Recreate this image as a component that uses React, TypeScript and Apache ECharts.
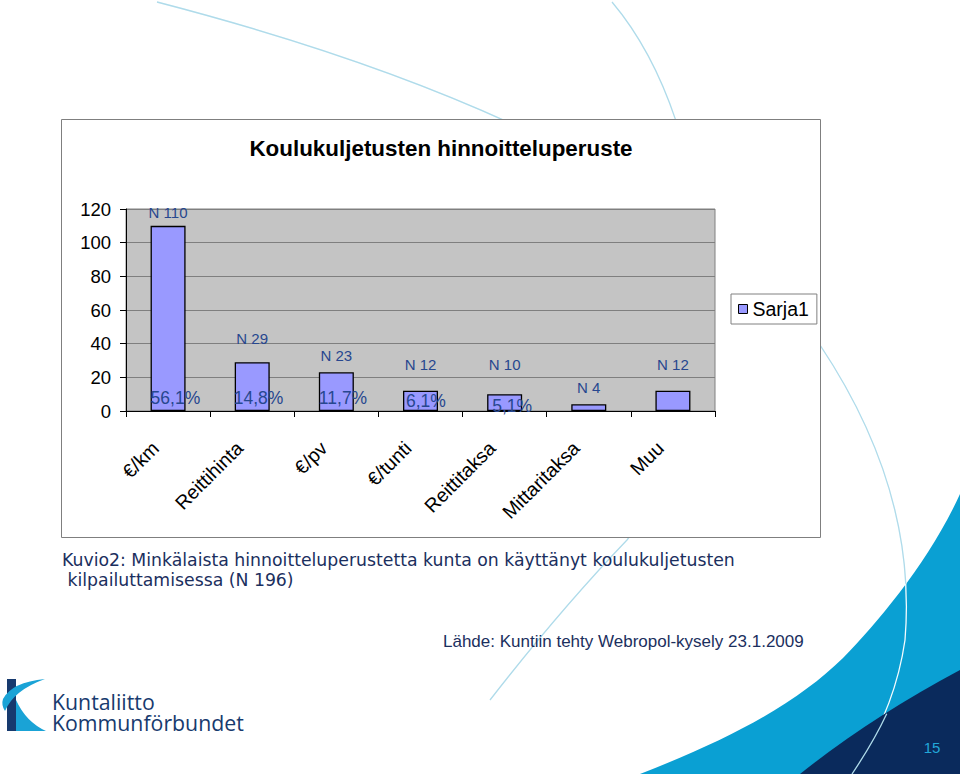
import React, { useEffect, useRef } from "react";
import * as echarts from "echarts";

// ---- data ----
const categories = ["€/km", "Reittihinta", "€/pv", "€/tunti", "Reittitaksa", "Mittaritaksa", "Muu"];
const counts = [110, 29, 23, 12, 10, 4, 12];
const shareLabels = ["56,1%", "14,8%", "11,7%", "6,1%", "5,1%", "", ""];
const yMin = 0;
const yMax = 120;
const yStep = 20;
const seriesName = "Sarja1";
const chartTitle = "Koulukuljetusten hinnoitteluperuste";
const captionLines = [
  "Kuvio2: Minkälaista hinnoitteluperustetta kunta on käyttänyt koulukuljetusten",
  " kilpailuttamisessa (N 196)",
];
const sourceText = "Lähde: Kuntiin tehty Webropol-kysely 23.1.2009";
const logoLines = ["Kuntaliitto", "Kommunförbundet"];
const pageNumber = "15";

// ---- label nudges (styling, px) ----
const nLabelRaise = [1, 11, 4, 14, 17, 4, 14];
const shareLabelShift = [
  [0, -4.5],
  [-1, -4.5],
  [0, -4.5],
  [3, -1],
  [5, 4],
  [0, 0],
  [0, 0],
];

const FONT = '"Liberation Sans", Arial, Helvetica, sans-serif';
const NAVY = "#1b2f5e";
const LABEL_BLUE = "#27478f";
const ARC_BLUE = "#afdbea";

let shapesRegistered = false;
function registerShapes() {
  if (shapesRegistered) return;
  shapesRegistered = true;
  const reg = (name: string, d: string) =>
    echarts.graphic.registerShape(name, (echarts.graphic as any).extendPath(d, {}));
  reg("swooshLight", "M 960 494 C 930 560 880 620 843 658 C 800 700 740 735 640 774 L 960 774 Z");
  reg("swooshDark", "M 960 670 Q 870 718 800 774 L 960 774 Z");
  // full big arc (drawn white, shows only over the blue swoosh)
  reg("arcOneFull", "M 157 2 Q 650 130 820 345 C 870 420 915 520 905 640 Q 895 710 852 774");
  // part of the big arc that lies on the white page
  reg("arcOneUpper", "M 157 2 Q 650 130 820 345 C 862 408 900.6 488.6 905.8 583.8");
  // part of the big arc that lies on the dark swoosh
  reg("arcOneLower", "M 886.75 713.75 Q 873.5 742 852 774");
  reg("arcTwo", "M 612 2 C 720 130 740 400 627 540 Q 560 610 490 700");
  reg("kTop", "M 45 679 Q 12 682 3 699 Q 1 705 5 711 Q 14 690 45 679 Z");
  reg("kBottom", "M 16 700 Q 26 722 46 731 L 16 731 Z");
}

export default function App() {
  const ref = useRef<HTMLDivElement>(null);

  useEffect(() => {
    if (!ref.current) return;
    registerShapes();
    const chart = echarts.init(ref.current, undefined, { renderer: "svg" });

    const arcStyle = { fill: "none", stroke: ARC_BLUE, lineWidth: 1.3 };

    const option: any = {
      animation: false,
      backgroundColor: "#ffffff",
      title: {
        text: chartTitle,
        left: 441,
        top: 137,
        textAlign: "center",
        padding: 0,
        z: 8,
        textStyle: { fontSize: 22.4, fontWeight: "bold", fontFamily: FONT, color: "#000" },
      },
      legend: {
        data: [seriesName],
        left: 731,
        top: 294,
        orient: "vertical",
        padding: [5, 8, 5, 7],
        itemWidth: 9,
        itemHeight: 9,
        itemGap: 5,
        icon: "rect",
        backgroundColor: "#ffffff",
        borderColor: "#808080",
        borderWidth: 1,
        z: 8,
        itemStyle: { color: "#9999ff", borderColor: "#000", borderWidth: 1 },
        textStyle: { fontSize: 19.5, fontFamily: FONT, color: "#000" },
      },
      grid: {
        left: 126,
        top: 209,
        width: 589,
        height: 202,
        show: true,
        backgroundColor: "#c4c4c4",
        borderColor: "#808080",
        borderWidth: 1,
        z: 5,
        containLabel: false,
      },
      xAxis: {
        type: "category",
        data: categories,
        z: 6,
        axisLine: { show: true, lineStyle: { color: "#000", width: 1 } },
        axisTick: { show: true, alignWithLabel: false, length: 6, lineStyle: { color: "#000" } },
        axisLabel: {
          rotate: 45,
          margin: 21,
          padding: [0, 18, 0, 0],
          fontSize: 19.5,
          fontFamily: FONT,
          color: "#000",
          interval: 0,
        },
        splitLine: { show: false },
      },
      yAxis: {
        type: "value",
        min: yMin,
        max: yMax,
        interval: yStep,
        z: 6,
        axisLine: { show: true, lineStyle: { color: "#000", width: 1 } },
        axisTick: { show: true, length: 6, lineStyle: { color: "#000" } },
        axisLabel: { margin: 15, fontSize: 18.5, fontFamily: FONT, color: "#000" },
        splitLine: { show: true, lineStyle: { color: "#7f7f7f", width: 1 } },
      },
      series: [
        {
          name: seriesName,
          type: "bar",
          z: 7,
          barWidth: 35,
          data: counts.map((v, i) => ({
            value: v,
            label: { offset: [0, -nLabelRaise[i]] },
          })),
          itemStyle: { color: "#9999ff", borderColor: "#000", borderWidth: 1.3 },
          label: {
            show: true,
            position: "top",
            distance: 5,
            formatter: (p: any) => "N " + p.value,
            fontSize: 15,
            fontFamily: FONT,
            color: LABEL_BLUE,
          },
        },
        {
          name: "share",
          type: "bar",
          z: 8,
          barWidth: 35,
          barGap: "-100%",
          silent: true,
          data: counts.map((v, i) => ({
            value: v,
            label: { offset: shareLabelShift[i] },
          })),
          itemStyle: { color: "rgba(0,0,0,0)", borderWidth: 0 },
          label: {
            show: true,
            position: "insideBottomLeft",
            distance: 0,
            formatter: (p: any) => shareLabels[p.dataIndex],
            fontSize: 17.5,
            fontFamily: FONT,
            color: LABEL_BLUE,
          },
        },
      ],
      graphic: {
        elements: [
          { type: "swooshLight", x: 0, y: 0, z: 0, silent: true, style: { fill: "#0aa0d3" } },
          {
            type: "arcOneFull",
            x: 0,
            y: 0,
            z: 1,
            silent: true,
            style: { fill: "none", stroke: "#f4fbfe", lineWidth: 1.3 },
          },
          { type: "swooshDark", x: 0, y: 0, z: 2, silent: true, style: { fill: "#0a2a5c" } },
          { type: "arcOneUpper", x: 0, y: 0, z: 3, silent: true, style: arcStyle },
          { type: "arcOneLower", x: 0, y: 0, z: 3, silent: true, style: arcStyle },
          { type: "arcTwo", x: 0, y: 0, z: 3, silent: true, style: arcStyle },
          {
            type: "rect",
            z: 4,
            silent: true,
            shape: { x: 61.5, y: 119.5, width: 759, height: 418 },
            style: { fill: "#ffffff", stroke: "#7f7f7f", lineWidth: 1 },
          },
          {
            type: "text",
            z: 4,
            x: 62,
            y: 560,
            style: {
              text: captionLines[0],
              fontSize: 17.3,
              fontFamily: '"DejaVu Sans", sans-serif',
              fill: NAVY,
              verticalAlign: "middle",
            },
          },
          {
            type: "text",
            z: 4,
            x: 62,
            y: 580,
            style: {
              text: captionLines[1],
              fontSize: 17.3,
              fontFamily: '"DejaVu Sans", sans-serif',
              fill: NAVY,
              verticalAlign: "middle",
            },
          },
          {
            type: "text",
            z: 4,
            x: 443,
            y: 641,
            style: {
              text: sourceText,
              fontSize: 17,
              fontFamily: FONT,
              fill: NAVY,
              verticalAlign: "middle",
            },
          },
          {
            type: "text",
            z: 4,
            x: 932,
            y: 747,
            style: {
              text: pageNumber,
              fontSize: 15,
              fontFamily: FONT,
              fill: "#23a7d8",
              align: "center",
              verticalAlign: "middle",
            },
          },
          {
            type: "rect",
            z: 4,
            silent: true,
            shape: { x: 7, y: 679, width: 9, height: 52 },
            style: { fill: "#173a6e" },
          },
          { type: "kTop", x: 0, y: 0, z: 4, silent: true, style: { fill: "#1aa3d6" } },
          { type: "kBottom", x: 0, y: 0, z: 4, silent: true, style: { fill: "#1aa3d6" } },
          {
            type: "text",
            z: 4,
            x: 52,
            y: 691,
            style: {
              text: logoLines.join("\n"),
              fontSize: 21.3,
              lineHeight: 21,
              fontFamily: '"Open Sans", "Noto Sans", sans-serif',
              fill: "#173a6e",
              verticalAlign: "top",
            },
          },
        ],
      },
    };

    chart.setOption(option);
    return () => chart.dispose();
  }, []);

  return (
    <div
      ref={ref}
      style={{ position: "absolute", left: 0, top: 0, width: 960, height: 774, background: "#fff" }}
    />
  );
}
